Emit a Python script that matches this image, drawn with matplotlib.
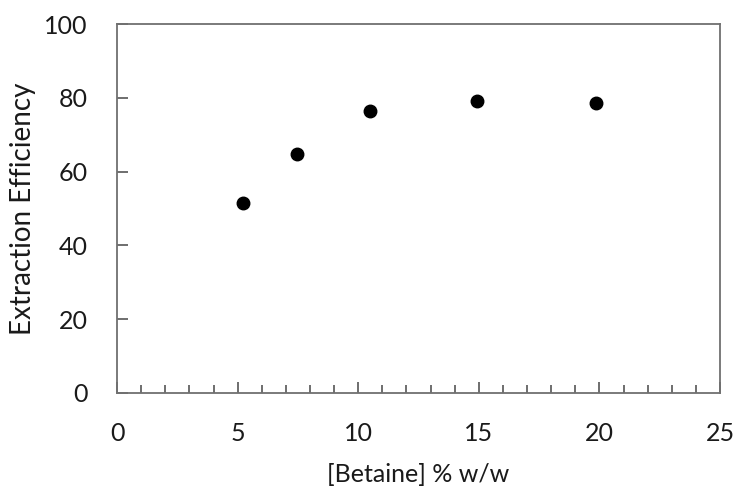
import matplotlib.pyplot as plt
from matplotlib.ticker import MultipleLocator

# Data
betaine = [5.24, 7.48, 10.5, 14.94, 19.87]
efficiency = [51.4, 64.8, 76.4, 79.0, 78.6]

plt.rcParams['font.family'] = ['Lato', 'DejaVu Sans']

fig = plt.figure(figsize=(7.37, 4.91), dpi=100)
ax = fig.add_axes([0.1588, 0.1996, 0.8182, 0.7515])

ax.plot(betaine, efficiency, 'o', color='black', markersize=9)

ax.set_xlim(0, 25)
ax.set_ylim(0, 100)
ax.xaxis.set_major_locator(MultipleLocator(5))
ax.xaxis.set_minor_locator(MultipleLocator(1))
ax.yaxis.set_major_locator(MultipleLocator(20))

for s in ax.spines.values():
    s.set_color('#707070')
    s.set_linewidth(1.3)

ax.tick_params(axis='y', which='major', direction='in', length=8,
               width=1.2, color='#555555', labelsize=18, labelcolor='#1a1a1a', pad=21)
ax.tick_params(axis='x', which='major', direction='in', length=8,
               width=1.2, color='#555555', labelsize=18, labelcolor='#1a1a1a', pad=21)
ax.tick_params(axis='x', which='minor', direction='in', length=6,
               width=1.2, color='#555555')
ax.tick_params(top=False, right=False)

ax.set_xlabel('[Betaine] % w/w', fontsize=18, color='#1a1a1a', labelpad=13)
ax.set_ylabel('Extraction Efficiency', fontsize=20, color='#1a1a1a', labelpad=6)

fig.savefig('out.png', dpi=100)
